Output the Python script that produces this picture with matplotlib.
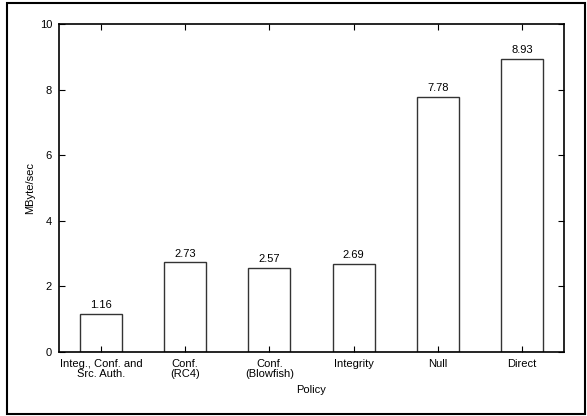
import matplotlib
matplotlib.use("Agg")
import matplotlib.pyplot as plt
from matplotlib.patches import Rectangle

categories = ["Integ., Conf. and\nSrc. Auth.", "Conf.\n(RC4)", "Conf.\n(Blowfish)", "Integrity", "Null", "Direct"]
values = [1.16, 2.73, 2.57, 2.69, 7.78, 8.93]
yticks = [0, 2, 4, 6, 8, 10]

plt.rcParams['font.family'] = ['Liberation Sans', 'DejaVu Sans']
fig = plt.figure(figsize=(5.87, 4.16), dpi=100)
W, H = 587, 416
ax = fig.add_axes([59 / W, 1 - 352 / H, (564 - 59) / W, (352 - 24) / H])

fs = 8
x = list(range(1, len(categories) + 1))
ax.bar(x, values, width=0.5, facecolor='white', edgecolor='#333333', linewidth=1.0)
for xi, v in zip(x, values):
    ax.text(xi, v + 0.12, f"{v:.2f}", ha='center', va='bottom', fontsize=fs)

ax.set_xlim(0.5, 6.5)
ax.set_ylim(0, 10)
ax.set_xticks(x)
ax.set_xticklabels(categories, fontsize=fs, linespacing=0.95)
ax.set_yticks(yticks)
ax.set_yticklabels([str(t) for t in yticks], fontsize=fs)
ax.tick_params(direction='in', length=4, width=0.8, top=True, right=True, pad=5)
for s in ax.spines.values():
    s.set_linewidth(1.2)
ax.set_xlabel("Policy", fontsize=fs, labelpad=5)
ax.set_ylabel("MByte/sec", fontsize=fs, labelpad=3)

fig.patches.append(Rectangle((7 / W, 1 - 414 / H), (585 - 7) / W, (414 - 3) / H,
                             transform=fig.transFigure, fill=False,
                             edgecolor='black', linewidth=1.5))
fig.savefig("out.png", dpi=100)
